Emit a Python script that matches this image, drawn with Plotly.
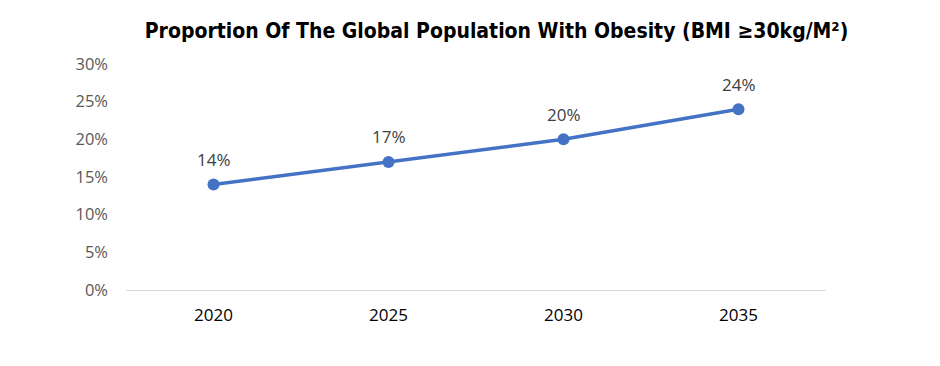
import plotly.graph_objects as go

years = ["2020", "2025", "2030", "2035"]
obesity_share = [0.14, 0.17, 0.20, 0.24]
label_text = ["14%", "17%", "20%", "24%"]
y_ticks = [0, 0.05, 0.10, 0.15, 0.20, 0.25, 0.30]
y_tick_labels = ["0%", "5%", "10%", "15%", "20%", "25%", "30%"]

fig = go.Figure()
fig.add_trace(go.Scatter(
    x=years, y=obesity_share, mode="lines+markers",
    line=dict(color="#4472C4", width=3.5),
    marker=dict(color="#4472C4", size=12),
    cliponaxis=False, hoverinfo="skip",
))

# category axis: annotations positioned by category index
for i, (val, lab) in enumerate(zip(obesity_share, label_text)):
    fig.add_annotation(
        x=i, y=val, xref="x", yref="y", text=lab, showarrow=False, yshift=25,
        font=dict(family="Open Sans", size=17, color="#404040"),
    )

fig.update_layout(
    width=940, height=366,
    margin=dict(l=118, r=122, t=56, b=84),
    paper_bgcolor="white", plot_bgcolor="white",
    showlegend=False,
    title=dict(
        text="<b>Proportion Of The Global Population With Obesity (BMI ≥30kg/M²)</b>",
        x=0.5197, xanchor="center", y=0.937, yanchor="middle",
        font=dict(family="DejaVu Sans Condensed", size=21, color="#000000"),
    ),
    xaxis=dict(
        type="category", range=[-0.5, 3.5],
        showgrid=False, showline=True, linecolor="#D9D9D9", linewidth=1,
        ticks="", ticklabelstandoff=10,
        tickfont=dict(family="Open Sans", size=17, color="#000000"),
        zeroline=False,
    ),
    yaxis=dict(
        range=[0, 0.30], tickvals=y_ticks, ticktext=y_tick_labels,
        showgrid=False, showline=False, zeroline=False,
        ticks="", ticklabelstandoff=17,
        tickfont=dict(family="Open Sans", size=16.5, color="#595959"),
    ),
)

fig.write_html("out.html")
